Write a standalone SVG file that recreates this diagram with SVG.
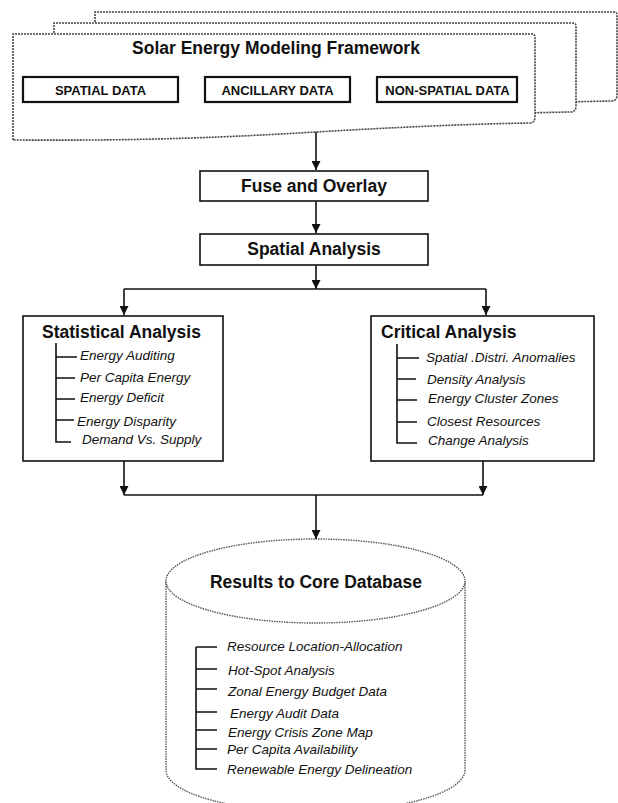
<svg xmlns="http://www.w3.org/2000/svg" width="618" height="803" viewBox="0 0 618 803">
  <defs>
    <style>
      .doc { fill: #fff; stroke: #444; stroke-width: 1.6; stroke-dasharray: 2 1; }
      .box { fill: #fff; stroke: #111; stroke-width: 1.6; }
      .dbox { fill: #fff; stroke: #111; stroke-width: 2.2; }
      .head { font-family: "Liberation Sans", Arial, sans-serif; font-weight: bold; font-size: 17.5px; fill: #111; }
      .cap { font-family: "Liberation Sans", Arial, sans-serif; font-weight: bold; font-size: 13px; fill: #111; }
      .item { font-family: "Liberation Sans", Arial, sans-serif; font-style: italic; font-size: 13.5px; fill: #111; }
      .tree { fill: none; stroke: #111; stroke-width: 1.6; }
      .link { fill: none; stroke: #111; stroke-width: 1.6; }
      .cyl { fill: #fff; stroke: #555; stroke-width: 1.4; stroke-dasharray: 1.5 1; }
    </style>
    <marker id="arrow" markerUnits="userSpaceOnUse" markerWidth="9" markerHeight="9" viewBox="0 0 10 10" refX="10" refY="5" orient="auto">
      <path d="M0,0 L10,5 L0,10 Z" fill="#111"/>
    </marker>
    <path id="docShape" d="M13,140 V34 H532 Q535,34 535,37 V117 Q535,123 529,123 C470,124 400,127 316,132 C230,137 150,141 13,140 Z"/>
  </defs>

  <!-- stacked document frame -->
  <g id="framework">
    <use href="#docShape" class="doc" transform="translate(82,-22)"/>
    <use href="#docShape" class="doc" transform="translate(41,-11)"/>
    <use href="#docShape" class="doc"/>
    <text class="head" x="276" y="54" text-anchor="middle" font-size="18.5">Solar Energy Modeling Framework</text>
  </g>

  <g id="spatial-data">
    <rect class="dbox" x="23" y="77" width="155" height="25"/>
    <text class="cap" x="100.5" y="94.5" text-anchor="middle">SPATIAL DATA</text>
  </g>
  <g id="ancillary-data">
    <rect class="dbox" x="205" y="77" width="145" height="25"/>
    <text class="cap" x="277.5" y="94.5" text-anchor="middle">ANCILLARY DATA</text>
  </g>
  <g id="non-spatial-data">
    <rect class="dbox" x="377" y="77" width="140" height="25"/>
    <text class="cap" x="447.5" y="94.5" text-anchor="middle">NON-SPATIAL DATA</text>
  </g>

  <g id="fuse-overlay">
    <rect class="box" x="200" y="171" width="228" height="30"/>
    <text class="head" x="314" y="192" text-anchor="middle">Fuse and Overlay</text>
  </g>

  <g id="spatial-analysis">
    <rect class="box" x="200" y="234" width="228" height="31"/>
    <text class="head" x="314" y="255" text-anchor="middle">Spatial Analysis</text>
  </g>

  <g id="statistical-analysis">
    <rect class="box" x="23" y="316" width="200" height="145"/>
    <text class="head" x="42" y="338">Statistical Analysis</text>
    <path class="tree" d="M56,343 V442 H71 M56,357 H77 M56,378 H75 M56,399 H75 M56,420 H74"/>
    <text class="item" x="80" y="360">Energy  Auditing</text>
    <text class="item" x="80" y="382">Per Capita Energy</text>
    <text class="item" x="80" y="402">Energy  Deficit</text>
    <text class="item" x="77" y="426">Energy  Disparity</text>
    <text class="item" x="82" y="444">Demand  Vs. Supply</text>
  </g>

  <g id="critical-analysis">
    <rect class="box" x="371" y="316" width="223" height="145"/>
    <text class="head" x="381" y="338">Critical Analysis</text>
    <path class="tree" d="M397,344 V443 H417 M397,358 H419 M397,379 H416 M397,400 H417 M397,422 H417"/>
    <text class="item" x="426" y="362">Spatial .Distri. Anomalies</text>
    <text class="item" x="427" y="384">Density Analysis</text>
    <text class="item" x="428" y="403">Energy  Cluster Zones</text>
    <text class="item" x="427" y="426">Closest Resources</text>
    <text class="item" x="428" y="445">Change Analysis</text>
  </g>

  <g id="core-database">
    <path class="cyl" d="M166,581 V770 A149.5,42 0 0 0 465,770 V581"/>
    <ellipse class="cyl" cx="315.5" cy="581" rx="149.5" ry="42"/>
    <text class="head" x="316" y="588" text-anchor="middle" font-size="18">Results to Core Database</text>
    <path class="tree" d="M196,647 V769 H217 M196,647 H217 M196,669 H217 M196,689 H217 M196,712 H217 M196,730 H217 M196,749 H217"/>
    <text class="item" x="227" y="651">Resource  Location-Allocation</text>
    <text class="item" x="228" y="675">Hot-Spot Analysis</text>
    <text class="item" x="228" y="696">Zonal  Energy Budget Data</text>
    <text class="item" x="230" y="718">Energy  Audit Data</text>
    <text class="item" x="228" y="737">Energy  Crisis Zone Map</text>
    <text class="item" x="227" y="754">Per Capita Availability</text>
    <text class="item" x="227" y="774">Renewable  Energy  Delineation</text>
  </g>

  <!-- connectors -->
  <g id="connectors">
    <path class="link" d="M316,132 V170" marker-end="url(#arrow)"/>
    <path class="link" d="M316,201 V233" marker-end="url(#arrow)"/>
    <path class="link" d="M316,265 V289" marker-end="url(#arrow)"/>
    <path class="link" d="M124,289 H486"/>
    <path class="link" d="M124,289 V315" marker-end="url(#arrow)"/>
    <path class="link" d="M486,289 V315" marker-end="url(#arrow)"/>
    <path class="link" d="M124,461 V495" marker-end="url(#arrow)"/>
    <path class="link" d="M483,461 V495" marker-end="url(#arrow)"/>
    <path class="link" d="M124,495 H483"/>
    <path class="link" d="M316,495 V539" marker-end="url(#arrow)"/>
  </g>
</svg>
